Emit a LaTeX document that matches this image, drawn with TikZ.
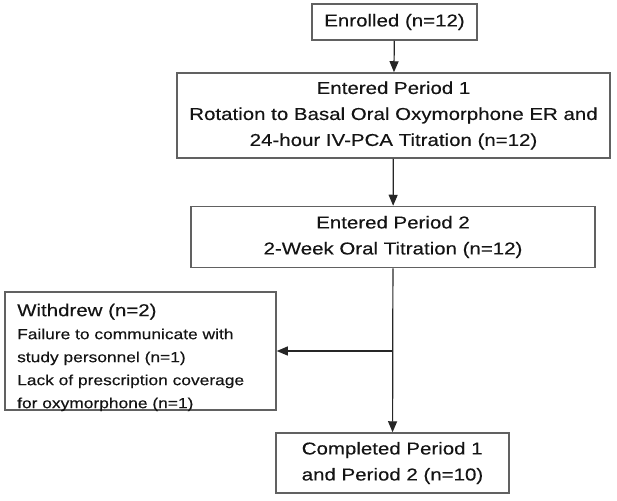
\documentclass[tikz,border=0pt]{standalone}
\usepackage{fontspec}
\setmainfont[FakeStretch=1.19, FakeBold=0.3]{Liberation Sans}
\usepackage{tikz}
\usetikzlibrary{arrows.meta, positioning}

\newcommand{\wdlarge}{\fontsize{17.2}{23}\selectfont}

\tikzset{
    stagebox/.style={draw=black!62, line width=1.5pt, inner sep=0pt, align=center,
        text=black!92, font=\fontsize{17.2}{26}\selectfont},
    notetext/.style={inner sep=0pt, anchor=north west, align=left, text=black!92,
        font=\fontsize{14.6}{23}\selectfont},
    flowline/.style={line width=1.2pt, draw=black!85, -{Triangle[length=11pt, width=9pt]}}
}

\begin{document}
\begin{tikzpicture}[x=1pt, y=-1pt]

    \useasboundingbox (0,0) rectangle (617,500);

    \node[stagebox, minimum width=165pt, minimum height=36pt] (enrol) at (394.5,22) {Enrolled (n=12)};
    \node[stagebox, minimum width=433pt, minimum height=85pt] (per1) at (393.5,115.5)
        {Entered Period 1\\Rotation to Basal Oral Oxymorphone ER and\\24-hour IV-PCA Titration (n=12)};
    \node[stagebox, minimum width=404pt, minimum height=61pt] (per2) at (393,237)
        {Entered Period 2\\2-Week Oral Titration (n=12)};
    \node[stagebox, minimum width=271pt, minimum height=118pt] (wdraw) at (140.5,351) {};
    \node[notetext] (wdtext) at (17,303.5)
        {\wdlarge Withdrew (n=2)\\Failure to communicate with\\study personnel (n=1)\\
         Lack of prescription coverage\\for oxymorphone (n=1)};
    \node[stagebox, minimum width=233pt, minimum height=60pt, align=left] (done) at (392.5,463)
        {Completed Period 1\\and Period 2 (n=10)};

    \draw[flowline] (enrol) -- (per1);
    \draw[flowline] (per1) -- (per2);
    \draw[flowline] (per2) -- (done);

    \coordinate (split) at (per2.south |- wdraw.east);
    \draw[flowline] (split) -- (wdraw.east);

\end{tikzpicture}
\end{document}
